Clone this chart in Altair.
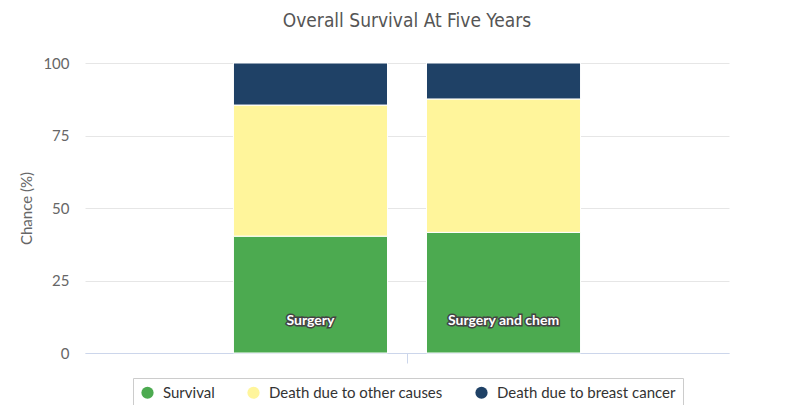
import altair as alt
import pandas as pd

groups = ["Surgery", "Surgery and chem"]
series = ["Survival", "Death due to other causes", "Death due to breast cancer"]
survival = [40.3, 41.6]
other_causes = [45.2, 46.0]
breast_cancer = [14.5, 12.4]
colors = ["#4caa50", "#fff59b", "#1f4166"]

rows = []
for i, g in enumerate(groups):
    for k, (s, vals) in enumerate(zip(series, [survival, other_causes, breast_cancer])):
        rows.append({"cat": "all", "group": g, "series": s, "order": k, "value": vals[i]})
df = pd.DataFrame(rows)
lab = pd.DataFrame({"cat": ["all"] * len(groups), "group": groups})

FONT = "Lato"
x_enc = alt.X("cat:N", scale=alt.Scale(paddingInner=0, paddingOuter=0),
              axis=alt.Axis(labels=False, title=None, ticks=True, tickSize=10,
                            tickColor="#ccd6eb", domainColor="#ccd6eb", grid=False))
xo_enc = alt.XOffset("group:N", sort=groups,
                     scale=alt.Scale(paddingInner=0.202, paddingOuter=0.769))

bars = alt.Chart(df).mark_bar(stroke="white", strokeWidth=1).encode(
    x=x_enc,
    xOffset=xo_enc,
    y=alt.Y("value:Q", stack="zero",
            scale=alt.Scale(domain=[0, 100]),
            axis=alt.Axis(values=[0, 25, 50, 75, 100], title="Chance (%)",
                          grid=True, gridColor="#e6e6e6", domain=False, ticks=False,
                          labelColor="#666666", labelFontSize=15, labelFont=FONT,
                          labelPadding=16, titleColor="#666666", titleFontSize=15,
                          titleFont=FONT, titleFontWeight="normal", titlePadding=8)),
    color=alt.Color("series:N", sort=series,
                    scale=alt.Scale(domain=series, range=colors),
                    legend=alt.Legend(title=None, orient="none", direction="horizontal",
                                      legendX=48, legendY=315,
                                      symbolType="circle", symbolSize=150,
                                      symbolStrokeWidth=0, labelLimit=400,
                                      labelFont=FONT, labelFontSize=15, labelColor="#333333",
                                      strokeColor="#cccccc", padding=7,
                                      columnPadding=31, labelOffset=8)),
    order=alt.Order("order:Q"),
)

outline = alt.Chart(lab).mark_text(font=FONT, fontSize=14, fontWeight="bold",
                                   color="white", stroke="#444444", strokeWidth=3,
                                   dy=-32, baseline="middle").encode(
    x=alt.X("cat:N"), xOffset=alt.XOffset("group:N", sort=groups),
    y=alt.YDatum(0), text="group:N")
fill = alt.Chart(lab).mark_text(font=FONT, fontSize=14, fontWeight="bold",
                                color="white", dy=-32, baseline="middle").encode(
    x=alt.X("cat:N"), xOffset=alt.XOffset("group:N", sort=groups),
    y=alt.YDatum(0), text="group:N")

chart = alt.layer(bars, outline, fill).properties(
    width=644, height=290,
    padding={"left": 11, "top": 4, "right": 5, "bottom": 5},
    title=alt.TitleParams("Overall Survival At Five Years",
                          font="DejaVu Sans Condensed, Liberation Sans Narrow, sans-serif",
                          fontSize=19, fontWeight="normal", color="#555555",
                          anchor="middle", frame="group", offset=25),
).configure_view(stroke=None)

chart.save("out.html", embed_options={"renderer": "svg", "actions": False})
